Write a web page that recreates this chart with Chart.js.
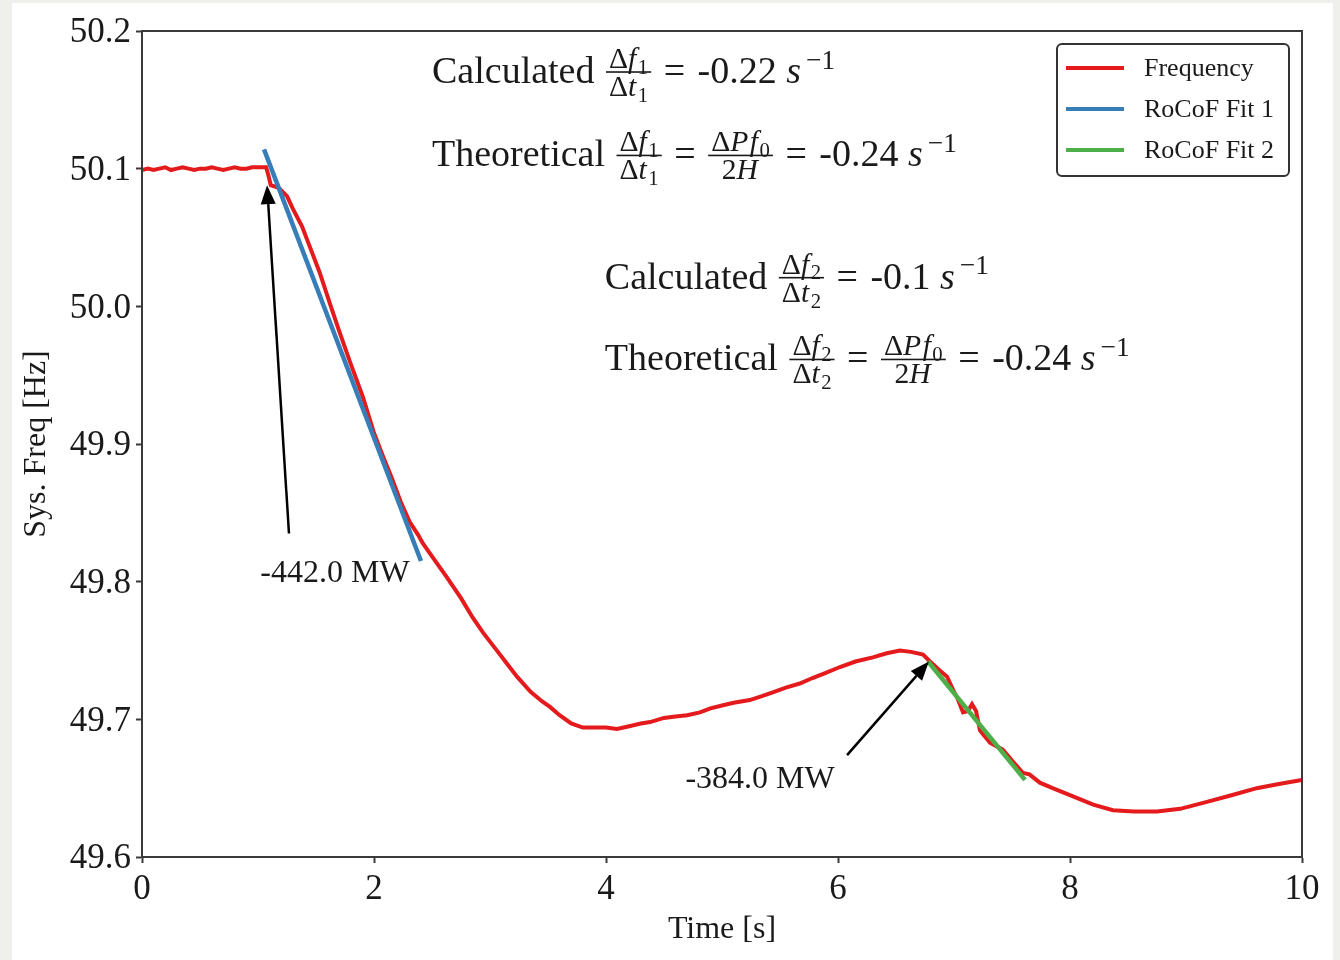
<!DOCTYPE html>
<html>
<head>
<meta charset="utf-8">
<script src="https://cdn.jsdelivr.net/npm/chart.js@4.4.1/dist/chart.umd.min.js"></script>
<style>
  html, body { margin: 0; padding: 0; background: #efefeb; }
  #wrap { position: relative; width: 1340px; height: 960px; overflow: hidden; }
  #card { position: absolute; left: 12px; top: 3px; width: 1321px; height: 957px; background: #ffffff; }
  #c { position: absolute; left: 0; top: 0; }
</style>
</head>
<body>
<div id="wrap">
  <div id="card"></div>
  <canvas id="c" width="1340" height="960"></canvas>
</div>
<script>
// ---------- DATA ----------
const freqTime = [0, 0.05, 0.1, 0.15, 0.2, 0.25, 0.3, 0.35, 0.4, 0.45, 0.5, 0.55, 0.6, 0.65, 0.7, 0.75, 0.8, 0.85, 0.9, 0.95, 1.0, 1.07, 1.09, 1.11, 1.18, 1.25, 1.30, 1.38, 1.448, 1.53, 1.62, 1.70, 1.80, 1.905, 2.00, 2.078, 2.15, 2.23, 2.31, 2.38, 2.42, 2.52, 2.63, 2.75, 2.85, 2.94, 3.05, 3.15, 3.233, 3.35, 3.45, 3.517, 3.6, 3.7, 3.8, 3.9, 4.0, 4.095, 4.2, 4.3, 4.38, 4.5, 4.6, 4.7, 4.81, 4.9, 5.0, 5.1, 5.24, 5.35, 5.45, 5.55, 5.67, 5.78, 5.9, 6.017, 6.15, 6.3, 6.42, 6.534, 6.63, 6.733, 6.793, 6.87, 6.94, 7.0, 7.026, 7.078, 7.12, 7.155, 7.19, 7.224, 7.31, 7.42, 7.5, 7.595, 7.65, 7.74, 7.85, 8.026, 8.2, 8.37, 8.55, 8.75, 8.95, 9.18, 9.4, 9.61, 9.8, 10.0];
const freqHz = [50.099, 50.100, 50.099, 50.100, 50.101, 50.099, 50.100, 50.101, 50.100, 50.099, 50.100, 50.100, 50.101, 50.100, 50.099, 50.100, 50.101, 50.100, 50.100, 50.101, 50.101, 50.101, 50.095, 50.088, 50.086, 50.080, 50.071, 50.058, 50.043, 50.025, 50.002, 49.982, 49.958, 49.934, 49.908, 49.891, 49.876, 49.858, 49.843, 49.834, 49.828, 49.816, 49.803, 49.788, 49.774, 49.763, 49.751, 49.740, 49.731, 49.720, 49.713, 49.709, 49.703, 49.697, 49.694, 49.694, 49.694, 49.693, 49.695, 49.697, 49.698, 49.701, 49.702, 49.703, 49.705, 49.708, 49.710, 49.712, 49.714, 49.717, 49.720, 49.723, 49.726, 49.730, 49.734, 49.738, 49.742, 49.745, 49.748, 49.750, 49.749, 49.747, 49.742, 49.736, 49.731, 49.720, 49.716, 49.705, 49.706, 49.711, 49.706, 49.692, 49.683, 49.678, 49.670, 49.661, 49.660, 49.654, 49.650, 49.644, 49.638, 49.634, 49.633, 49.633, 49.635, 49.640, 49.645, 49.650, 49.653, 49.656];

const fit1Time = [1.052, 2.405];
const fit1Hz = [50.114, 49.815];
const fit2Time = [6.776, 7.612];
const fit2Hz = [49.742, 49.656];

const seriesNames = ['Frequency', 'RoCoF Fit 1', 'RoCoF Fit 2'];
const seriesColors = ['#e41a1c', '#377eb8', '#4daf4a'];

const xTickStep = 2;
const yTicks = [49.6, 49.7, 49.8, 49.9, 50.0, 50.1, 50.2];

const annotTexts = ['-442.0 MW', '-384.0 MW'];
const annotTextPos = [[1.664, 49.806], [5.328, 49.656]];
const annotTail = [[1.267, 49.835], [6.078, 49.674]];
const annotHead = [[1.078, 50.088], [6.784, 49.742]];

// ---------- helpers ----------
const FAM = '"Liberation Serif", "Times New Roman", serif';
const TXT = '#1a1a1a';
function F(size, italic) { return (italic ? 'italic ' : '') + size + 'px ' + FAM; }

function runMath(ctx, items, size, x, y, draw) {
  let w = 0;
  for (const it of items) {
    if (typeof it === 'string') {
      ctx.font = F(size, false);
      if (draw) ctx.fillText(it, x + w, y);
      w += ctx.measureText(it).width;
    } else if (it.sp !== undefined) {
      w += it.sp;
    } else if (it.i !== undefined) {
      ctx.font = F(size, true);
      if (draw) ctx.fillText(it.i, x + w, y);
      w += ctx.measureText(it.i).width + size * 0.05;
    } else if (it.sub !== undefined) {
      const s = size * 0.7;
      ctx.font = F(s, false);
      if (draw) ctx.fillText(it.sub, x + w, y + size * 0.2);
      w += ctx.measureText(it.sub).width;
    } else if (it.sup !== undefined) {
      const s = size * 0.72;
      ctx.font = F(s, false);
      if (draw) ctx.fillText(it.sup, x + w + size * 0.08, y - size * 0.38);
      w += ctx.measureText(it.sup).width + size * 0.08;
    } else if (it.frac) {
      const s = size * 0.78;
      const nw = runMath(ctx, it.frac[0], s, 0, 0, false);
      const dw = runMath(ctx, it.frac[1], s, 0, 0, false);
      const pad = size * 0.08;
      const fw = Math.max(nw, dw) + 2 * pad;
      const axis = y - size * 0.29;
      if (draw) {
        runMath(ctx, it.frac[0], s, x + w + (fw - nw) / 2, axis - size * 0.11, true);
        runMath(ctx, it.frac[1], s, x + w + (fw - dw) / 2, axis + size * 0.63, true);
        ctx.fillRect(x + w, axis - 0.8, fw, 1.6);
      }
      w += fw;
    }
  }
  return w;
}

const dF1 = ['Δ', {i: 'f'}, {sub: '1'}];
const dT1 = ['Δ', {i: 't'}, {sub: '1'}];
const dF2 = ['Δ', {i: 'f'}, {sub: '2'}];
const dT2 = ['Δ', {i: 't'}, {sub: '2'}];
const dPf = ['Δ', {i: 'P'}, {i: 'f'}, {sub: '0'}];
const twoH = ['2', {i: 'H'}];
const EQ = [{sp: 3}, ' = ', {sp: 3}];
const mathLines = [
  {ax: 0.25, ay: 0.937, items: ['Calculated ', {sp: 2}, {frac: [dF1, dT1]}, ...EQ, '-0.22 ', {i: 's'}, {sup: '−1'}]},
  {ax: 0.25, ay: 0.836, items: ['Theoretical ', {sp: 2}, {frac: [dF1, dT1]}, ...EQ, {frac: [dPf, twoH]}, ...EQ, '-0.24 ', {i: 's'}, {sup: '−1'}]},
  {ax: 0.399, ay: 0.688, items: ['Calculated ', {sp: 2}, {frac: [dF2, dT2]}, ...EQ, '-0.1 ', {i: 's'}, {sup: '−1'}]},
  {ax: 0.399, ay: 0.589, items: ['Theoretical ', {sp: 2}, {frac: [dF2, dT2]}, ...EQ, {frac: [dPf, twoH]}, ...EQ, '-0.24 ', {i: 's'}, {sup: '−1'}]}
];

function drawArrow(ctx, x0, y0, x1, y1) {
  const ang = Math.atan2(y1 - y0, x1 - x0);
  const hl = 19, hw = 7.5;
  const bx = x1 - hl * Math.cos(ang), by = y1 - hl * Math.sin(ang);
  ctx.strokeStyle = '#000';
  ctx.fillStyle = '#000';
  ctx.lineWidth = 2.5;
  ctx.beginPath();
  ctx.moveTo(x0, y0);
  ctx.lineTo(bx, by);
  ctx.stroke();
  ctx.beginPath();
  ctx.moveTo(x1, y1);
  ctx.lineTo(bx + hw * Math.sin(ang), by - hw * Math.cos(ang));
  ctx.lineTo(bx - hw * Math.sin(ang), by + hw * Math.cos(ang));
  ctx.closePath();
  ctx.fill();
}

const overlay = {
  id: 'overlay',
  afterDraw(chart) {
    const ctx = chart.ctx;
    const ca = chart.chartArea;
    const xs = chart.scales.x, ys = chart.scales.y;
    ctx.save();
    // frame top/right
    ctx.strokeStyle = '#3a3a3a';
    ctx.lineWidth = 2;
    ctx.strokeRect(ca.left, ca.top, ca.right - ca.left, ca.bottom - ca.top);

    // annotations
    ctx.textAlign = 'center';
    ctx.textBaseline = 'middle';
    for (let k = 0; k < annotTexts.length; k++) {
      ctx.fillStyle = TXT;
      ctx.font = F(32, false);
      ctx.fillText(annotTexts[k], xs.getPixelForValue(annotTextPos[k][0]), ys.getPixelForValue(annotTextPos[k][1]));
      drawArrow(ctx, xs.getPixelForValue(annotTail[k][0]), ys.getPixelForValue(annotTail[k][1]),
                     xs.getPixelForValue(annotHead[k][0]), ys.getPixelForValue(annotHead[k][1]));
    }

    // math text
    ctx.textAlign = 'left';
    ctx.textBaseline = 'alphabetic';
    ctx.fillStyle = TXT;
    for (const ln of mathLines) {
      const px = ca.left + ln.ax * (ca.right - ca.left);
      const py = ca.bottom - ln.ay * (ca.bottom - ca.top);
      runMath(ctx, ln.items, 38, px, py, true);
    }

    // legend
    const lx = ca.right - 245, ly = ca.top + 13, lw = 232, lh = 132;
    ctx.fillStyle = 'rgba(255,255,255,0.9)';
    ctx.strokeStyle = '#333';
    ctx.lineWidth = 2;
    ctx.beginPath();
    ctx.roundRect(lx, ly, lw, lh, 5);
    ctx.fill();
    ctx.stroke();
    ctx.font = F(26, false);
    ctx.textBaseline = 'middle';
    for (let k = 0; k < seriesNames.length; k++) {
      const yy = ly + 24 + k * 41;
      ctx.strokeStyle = seriesColors[k];
      ctx.lineWidth = 4;
      ctx.beginPath();
      ctx.moveTo(lx + 9, yy);
      ctx.lineTo(lx + 67, yy);
      ctx.stroke();
      ctx.fillStyle = TXT;
      ctx.fillText(seriesNames[k], lx + 87, yy + 1);
    }
    ctx.restore();
  }
};

function pts(t, v) { return t.map((x, i) => ({x: x, y: v[i]})); }

new Chart(document.getElementById('c'), {
  type: 'line',
  data: {
    datasets: [
      {label: seriesNames[0], data: pts(freqTime, freqHz), borderColor: seriesColors[0], borderWidth: 4, pointRadius: 0, tension: 0, order: 3},
      {label: seriesNames[1], data: pts(fit1Time, fit1Hz), borderColor: seriesColors[1], borderWidth: 4.5, pointRadius: 0, tension: 0, order: 2},
      {label: seriesNames[2], data: pts(fit2Time, fit2Hz), borderColor: seriesColors[2], borderWidth: 4.5, pointRadius: 0, tension: 0, order: 1}
    ]
  },
  options: {
    responsive: false,
    animation: false,
    devicePixelRatio: 1,
    layout: {padding: {left: 0, top: 31, right: 38, bottom: 0}},
    plugins: {legend: {display: false}, tooltip: {enabled: false}},
    scales: {
      x: {
        type: 'linear', min: 0, max: 10,
        afterFit(s) { s.height = 103; },
        ticks: {stepSize: xTickStep, color: TXT, font: {family: FAM, size: 35}, padding: 6, callback: v => String(v)},
        grid: {display: true, drawOnChartArea: false, drawTicks: true, tickLength: 6, tickWidth: 2, color: '#3a3a3a'},
        border: {display: true, color: '#3a3a3a', width: 2},
        title: {display: true, text: 'Time [s]', color: TXT, font: {family: FAM, size: 32}, padding: {top: 0, bottom: 11}}
      },
      y: {
        type: 'linear', min: 49.6, max: 50.2,
        afterFit(s) { s.width = 142; },
        afterBuildTicks(s) { s.ticks = yTicks.map(v => ({value: v})); },
        ticks: {color: TXT, font: {family: FAM, size: 35}, padding: 5, labelOffset: 2, callback: v => Number(v).toFixed(1)},
        grid: {display: true, drawOnChartArea: false, drawTicks: true, tickLength: 6, tickWidth: 2, color: '#3a3a3a'},
        border: {display: true, color: '#3a3a3a', width: 2},
        title: {display: true, text: 'Sys. Freq [Hz]', color: TXT, font: {family: FAM, size: 32}, padding: {top: 17, bottom: 0}}
      }
    }
  },
  plugins: [overlay]
});
</script>
</body>
</html>
